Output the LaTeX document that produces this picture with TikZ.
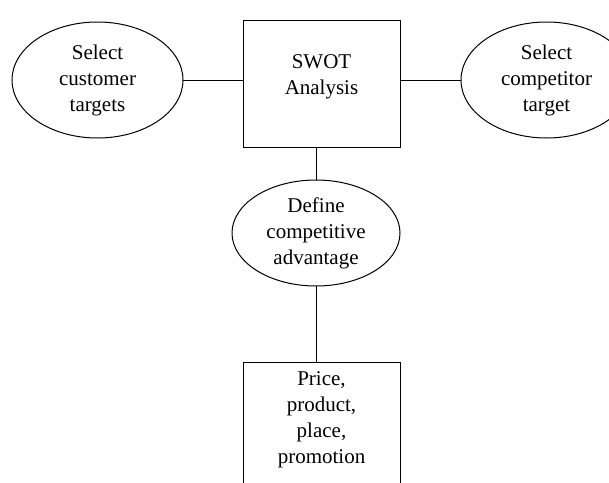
\documentclass[tikz,border=0pt]{standalone}
\usepackage{fontspec}
\setmainfont{Liberation Serif}
\usetikzlibrary{shapes.geometric}
\begin{document}
\begin{tikzpicture}[x=1pt,y=-1pt,
  every node/.style={font=\fontsize{21}{26}\selectfont, align=center, inner sep=0pt, outer sep=0pt},
  oval/.style={ellipse, draw, line width=1pt, minimum width=171, minimum height=116},
  sqbox/.style={rectangle, draw, line width=1pt, minimum width=157, minimum height=127},
  link/.style={line width=1pt}]
\useasboundingbox (0,0) rectangle (609,482);
\clip (0,0) rectangle (609,482);
\node[sqbox] (swot) at (321.5,83.5) {};
\node (swotlbl) at (321.5,77) {SWOT\\Analysis};
\node[oval] (cust) at (97.5,80) {Select\\customer\\targets};
\node[oval] (comp) at (546.5,80) {Select\\competitor\\target};
\node[oval, minimum width=168, minimum height=106] (adv) at (316,233) {Define\\competitive\\advantage};
\node[rectangle, minimum width=157, minimum height=116] (mix) at (321.5,420) {Price,\\product,\\place,\\promotion};
\draw[link] ([yshift=-14]mix.south west) -- (mix.north west) -- (mix.north east) -- ([yshift=-14]mix.south east);
\draw[link] (cust.east) -- (cust.east -| swot.west);
\draw[link] (swot.east |- comp.west) -- (comp.west);
\draw[link] (adv.north |- swot.south) -- (adv.north);
\draw[link] (adv.south) -- (adv.south |- mix.north);
\end{tikzpicture}
\end{document}
